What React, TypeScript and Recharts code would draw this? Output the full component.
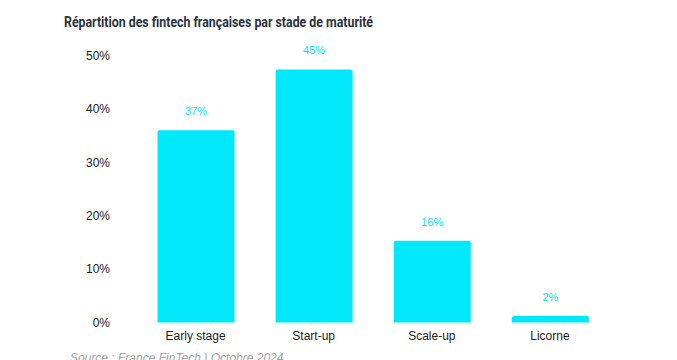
import { Bar, BarChart, XAxis, YAxis, LabelList } from "recharts"

const categories = ["Early stage", "Start-up", "Scale-up", "Licorne"]
// bar heights as drawn in the picture (they don't quite match the printed labels)
const barHeights = [36, 47.4, 15.3, 1.2]
const valueLabels = ["37%", "45%", "16%", "2%"]
const yTicks = [0, 10, 20, 30, 40, 50]

const data = categories.map((name, i) => ({
  name,
  share: barHeights[i],
  label: valueLabels[i],
}))

const CYAN = "#00E8FA"

export default function App() {
  return (
    <div style={{ position: "fixed", left: 0, top: 0, width: 677, height: 360, background: "#fff", overflow: "hidden" }}>
      <svg width={677} height={360} style={{ position: "absolute", left: 0, top: 0 }}>
        <text
          x={64}
          y={27}
          fontFamily="Roboto, sans-serif"
          fontWeight={700}
          fontSize={15.5}
          fill="#2b323b"
          textLength={309}
          lengthAdjust="spacingAndGlyphs"
        >
          Répartition des fintech françaises par stade de maturité
        </text>
        <text x={70} y={362} fontFamily="Liberation Sans, Arial, sans-serif" fontStyle="italic" fontSize={12} fill="#a3a3a3">
          Source : France FinTech | Octobre 2024
        </text>
      </svg>
      <div style={{ position: "absolute", left: 0, top: 0 }}>
        <BarChart
          width={677}
          height={360}
          data={data}
          margin={{ top: 55.5, right: 68, bottom: 7.5, left: 76.5 }}
        >
          <XAxis
            dataKey="name"
            axisLine={false}
            tickLine={false}
            tickSize={0}
            tickMargin={9}
            height={30}
            tick={{ fill: "#222", fontSize: 12, fontFamily: "Liberation Sans, Arial, sans-serif" }}
          />
          <YAxis
            domain={[0, 50]}
            ticks={yTicks}
            axisLine={false}
            tickLine={false}
            tickSize={0}
            tickMargin={26.5}
            width={60}
            tickFormatter={(v) => `${v}%`}
            tick={{ fill: "#222", fontSize: 12, fontFamily: "Liberation Sans, Arial, sans-serif" }}
          />
          <Bar dataKey="share" fill={CYAN} barSize={77} radius={[2, 2, 0, 0]} isAnimationActive={false}>
            <LabelList
              dataKey="label"
              position="top"
              offset={15}
              fill={CYAN}
              fontSize={11}
              fontFamily="Liberation Sans, Arial, sans-serif"
            />
          </Bar>
        </BarChart>
      </div>
    </div>
  )
}
